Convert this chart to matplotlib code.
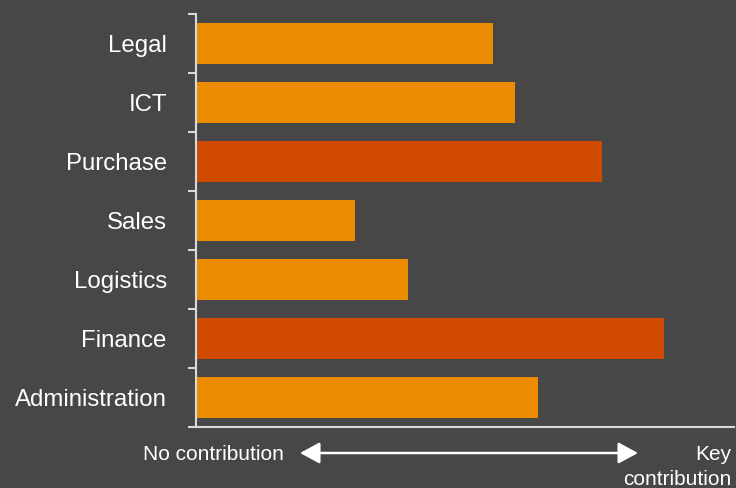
import matplotlib.pyplot as plt
from matplotlib.patches import FancyArrowPatch

# categorie e valori (scala 0-100)
categories = ["Legal", "ICT", "Purchase", "Sales", "Logistics", "Finance", "Administration"]
values = [55.2, 59.3, 75.5, 29.6, 39.4, 86.9, 63.6]
highlight = ["Purchase", "Finance"]

bg = "#474747"
light = "#D9D9D9"
orange = "#EB8C00"
dark_orange = "#D04A02"

plt.rcParams["font.family"] = ["Liberation Sans", "DejaVu Sans"]

fig = plt.figure(figsize=(7.36, 4.88), dpi=100, facecolor=bg)
ax = fig.add_axes([196 / 736, 61 / 488, 538 / 736, 413 / 488], facecolor=bg)

colors = [dark_orange if c in highlight else orange for c in categories]
ax.barh(range(len(categories)), values, height=0.68, color=colors)

ax.set_xlim(0, 100)
ax.set_ylim(len(categories) - 0.5, -0.5)

ax.set_yticks(range(len(categories)))
ax.set_yticklabels(categories, fontsize=17.3, color="white")
ax.set_yticks([i - 0.5 for i in range(len(categories) + 1)], minor=True)
ax.tick_params(axis="y", which="major", length=0, pad=21)
ax.tick_params(axis="y", which="minor", length=5.5, width=1.5, color=light)
ax.set_xticks([])

for s in ["top", "right"]:
    ax.spines[s].set_visible(False)
for s in ["left", "bottom"]:
    ax.spines[s].set_color(light)
    ax.spines[s].set_linewidth(1.5)

# testo e freccia in basso
fig.text(284 / 736, 1 - 454 / 488, "No contribution", ha="right", va="center",
         fontsize=15, color="white")
fig.text(731 / 736, 1 - 467 / 488, "Key\ncontribution", ha="right", va="center",
         fontsize=15, color="white", linespacing=1.4)
arrow = FancyArrowPatch((300 / 736, 1 - 453 / 488), (638 / 736, 1 - 453 / 488),
                        transform=fig.transFigure,
                        arrowstyle="<|-|>,head_length=12,head_width=6.5",
                        mutation_scale=1, shrinkA=0, shrinkB=0,
                        color="white", lw=1.8)
fig.patches.append(arrow)

fig.savefig("out.png", dpi=100, facecolor=bg)
